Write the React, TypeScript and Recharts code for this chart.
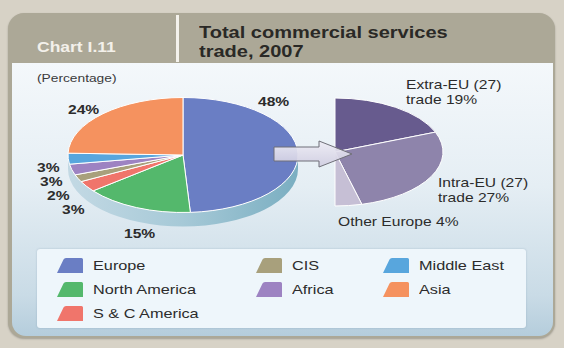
import React from "react";
import { Cell, Legend, Pie, PieChart } from "recharts";

const REGIONS = ["Europe", "North America", "S & C America", "CIS", "Africa", "Middle East", "Asia"];
const REGION_SHARES = [48, 15, 3, 2, 3, 3, 24];
const REGION_COLORS = ["#6a7ec4", "#54b86c", "#f0756b", "#a8a07c", "#9d83c2", "#58a6dd", "#f5925f"];
// legend reads across: three per row
const LEGEND_ORDER = ["Europe", "CIS", "Middle East", "North America", "Africa", "Asia", "S & C America"];

const EUROPE_PARTS = ["Extra-EU (27)", "Intra-EU (27)", "Other Europe"];
const EUROPE_SHARES = [19, 27, 4];
const EUROPE_COLORS = ["#675b8e", "#8e84ab", "#c6bfd5"];

const W = 564;
const H = 348;
const TILT = 0.5; // vertical squash of the pies
const DEPTH = 14; // thickness of the main pie
const STRETCH = 1.25; // the source text is set wide
const FONT = '"Liberation Sans", Arial, Helvetica, sans-serif';

// where each label sits, relative to its pie centre
const REGION_LABEL_AT: Record<string, [number, number]> = {
  Europe: [75, -53],
  "North America": [-59, 79],
  "S & C America": [-121, 55],
  CIS: [-136, 41],
  Africa: [-143, 27],
  "Middle East": [-146, 13],
  Asia: [-115, -45],
};
const EUROPE_LABEL_AT: Record<string, [number, number]> = {
  "Extra-EU (27)": [71, -67],
  "Intra-EU (27)": [103, 31],
  "Other Europe": [3, 70],
};

const regionData = REGIONS.map((name, i) => ({ name, value: REGION_SHARES[i], fill: REGION_COLORS[i] }));
const europeData = EUROPE_PARTS.map((name, i) => ({ name, value: EUROPE_SHARES[i], fill: EUROPE_COLORS[i] }));

const RAD = Math.PI / 180;

function EllipseSector(props: any) {
  const { cx, cy, outerRadius, startAngle, endAngle, fill } = props;
  const rx = outerRadius;
  const ry = outerRadius * TILT;
  const pt = (a: number) => [cx + rx * Math.cos(a * RAD), cy - ry * Math.sin(a * RAD)];
  const [x1, y1] = pt(startAngle);
  const [x2, y2] = pt(endAngle);
  const sweep = endAngle < startAngle ? 1 : 0;
  const large = Math.abs(endAngle - startAngle) > 180 ? 1 : 0;
  return (
    <path
      d={`M${cx},${cy} L${x1},${y1} A${rx},${ry} 0 ${large} ${sweep} ${x2},${y2} Z`}
      fill={fill}
      stroke="#ffffff"
      strokeWidth={1}
      strokeLinejoin="round"
    />
  );
}

// the visible rim under the main pie
function PieRim(props: any) {
  const { cx, cy, outerRadius } = props;
  const rx = outerRadius;
  const ry = outerRadius * TILT;
  const d =
    `M${cx - rx},${cy} L${cx - rx},${cy + DEPTH} ` +
    `A${rx},${ry} 0 0 0 ${cx + rx},${cy + DEPTH} L${cx + rx},${cy} ` +
    `A${rx},${ry} 0 0 1 ${cx - rx},${cy} Z`;
  return (
    <g>
      <defs>
        <linearGradient id="rimFill" gradientUnits="userSpaceOnUse" x1={cx - rx} y1={0} x2={cx + rx} y2={0}>
          <stop offset="0%" stopColor="#c3d9e4" />
          <stop offset="50%" stopColor="#a6c9d7" />
          <stop offset="100%" stopColor="#7aaec1" />
        </linearGradient>
      </defs>
      <path d={d} fill="url(#rimFill)" />
    </g>
  );
}

function WideText({ x, y, size, weight, children }: any) {
  return (
    <text
      transform={`translate(${x},${y}) scale(${STRETCH},1)`}
      fontSize={size}
      fontWeight={weight}
      fontFamily={FONT}
      fill="#2c2c2c"
      dominantBaseline="central"
    >
      {children}
    </text>
  );
}

function regionLabel(props: any) {
  const { cx, cy, index, value } = props;
  const [dx, dy] = REGION_LABEL_AT[REGIONS[index]];
  return (
    <WideText key={`rl-${index}`} x={cx + dx} y={cy + dy} size={12.5} weight="bold">
      {`${value}%`}
    </WideText>
  );
}

function europeLabel(props: any) {
  const { cx, cy, index, value } = props;
  const name = EUROPE_PARTS[index];
  const [dx, dy] = EUROPE_LABEL_AT[name];
  if (name.includes("EU")) {
    return (
      <g key={`el-${index}`}>
        <WideText x={cx + dx} y={cy + dy} size={12.5}>{name}</WideText>
        <WideText x={cx + dx} y={cy + dy + 15} size={12.5}>{`trade ${value}%`}</WideText>
      </g>
    );
  }
  return (
    <WideText key={`el-${index}`} x={cx + dx} y={cy + dy} size={12.5}>
      {`${name} ${value}%`}
    </WideText>
  );
}

function Swatch({ color }: { color: string }) {
  return (
    <svg width={26} height={15} style={{ flex: "none" }}>
      <path d="M0,15 L6.5,1.5 Q7.2,0 9,0 L24.5,0 Q26,0 26,1.5 L26,15 Z" fill={color} />
    </svg>
  );
}

function RegionLegend({ payload }: any) {
  const items = LEGEND_ORDER.map((name) => ({
    name,
    color:
      (payload ?? []).find((p: any) => p.value === name)?.color ?? REGION_COLORS[REGIONS.indexOf(name)],
  }));
  return (
    <div
      style={{
        width: 489,
        height: 79,
        boxSizing: "border-box",
        padding: "4px 0 0 20px",
        background: "#eef6fb",
        borderRadius: 3,
        boxShadow: "0 0 2px rgba(80,115,140,0.35)",
        display: "grid",
        gridAutoFlow: "row",
        gridTemplateRows: "repeat(3, 24px)",
        gridTemplateColumns: "199px 127px 130px",
        fontFamily: FONT,
      }}
    >
      {items.map((it) => (
        <div key={it.name} style={{ display: "flex", alignItems: "center" }}>
          <Swatch color={it.color} />
          <span
            style={{
              marginLeft: 10,
              fontSize: 13,
              color: "#2c2c2c",
              display: "inline-block",
              transform: `scaleX(${STRETCH})`,
              transformOrigin: "left center",
              whiteSpace: "nowrap",
            }}
          >
            {it.name}
          </span>
        </div>
      ))}
    </div>
  );
}

export default function App() {
  return (
    <div
      style={{
        position: "absolute",
        left: 0,
        top: 0,
        width: W,
        height: H,
        overflow: "hidden",
        background: "#d7d2c6",
        fontFamily: FONT,
      }}
    >
      {/* card */}
      <div
        style={{
          position: "absolute",
          left: 8,
          top: 13,
          width: 547,
          height: 325,
          borderRadius: 16,
          background: "#aca897",
          overflow: "hidden",
          boxShadow: "0 1px 2px rgba(0,0,0,0.25)",
        }}
      >
        <div
          style={{
            position: "absolute",
            left: 4,
            right: 2,
            top: 50,
            bottom: 2,
            borderRadius: "0 0 14px 14px",
            background: "linear-gradient(180deg, #f4f8fb 0%, #e5eef4 45%, #c9dbe6 85%, #b5cddc 100%)",
          }}
        />
      </div>
      <div style={{ position: "absolute", left: 176, top: 15, width: 3, height: 47, background: "#f4f2ec" }} />
      <div
        style={{
          position: "absolute",
          left: 37,
          top: 39,
          fontSize: 14,
          fontWeight: "bold",
          color: "#f3f0ea",
          transform: `scaleX(${STRETCH})`,
          transformOrigin: "left top",
          whiteSpace: "nowrap",
        }}
      >
        Chart I.11
      </div>
      <div
        style={{
          position: "absolute",
          left: 199,
          top: 23,
          fontSize: 16,
          lineHeight: "19px",
          fontWeight: "bold",
          color: "#2a2926",
          transform: `scaleX(${STRETCH})`,
          transformOrigin: "left top",
          whiteSpace: "nowrap",
        }}
      >
        Total commercial services
        <br />
        trade, 2007
      </div>
      <div
        style={{
          position: "absolute",
          left: 37,
          top: 72,
          fontSize: 11,
          color: "#3a3a3a",
          transform: `scaleX(${STRETCH})`,
          transformOrigin: "left top",
          whiteSpace: "nowrap",
        }}
      >
        (Percentage)
      </div>

      <div style={{ position: "absolute", left: 0, top: 0 }}>
        <PieChart width={W} height={H} margin={{ top: 0, right: 0, bottom: 0, left: 0 }}>
          <Pie
            data={[{ name: "rim", value: 1 }]}
            dataKey="value"
            cx={183}
            cy={155}
            outerRadius={115}
            legendType="none"
            shape={PieRim}
            activeShape={PieRim}
            isAnimationActive={false}
          />
          <Pie
            data={regionData}
            dataKey="value"
            nameKey="name"
            cx={183}
            cy={155}
            outerRadius={115}
            startAngle={90}
            endAngle={-270}
            shape={EllipseSector}
            activeShape={EllipseSector}
            label={regionLabel}
            labelLine={false}
            isAnimationActive={false}
          >
            {regionData.map((d) => (
              <Cell key={d.name} fill={d.fill} />
            ))}
          </Pie>
          <Pie
            data={europeData}
            dataKey="value"
            nameKey="name"
            cx={335}
            cy={152}
            outerRadius={108}
            startAngle={90}
            endAngle={-90}
            legendType="none"
            shape={EllipseSector}
            activeShape={EllipseSector}
            label={europeLabel}
            labelLine={false}
            isAnimationActive={false}
          >
            {europeData.map((d) => (
              <Cell key={d.name} fill={d.fill} />
            ))}
          </Pie>
          <Legend
            verticalAlign="bottom"
            content={RegionLegend}
            wrapperStyle={{ left: 37, top: 249, width: 489, height: 79 }}
          />
        </PieChart>
      </div>

      {/* pointer from Europe to its breakdown */}
      <svg width={W} height={H} style={{ position: "absolute", left: 0, top: 0, pointerEvents: "none" }}>
        <defs>
          <linearGradient id="arrowFill" x1="0" y1="0" x2="0" y2="1">
            <stop offset="0%" stopColor="#eeedf5" stopOpacity={0.95} />
            <stop offset="100%" stopColor="#cfcce0" stopOpacity={0.9} />
          </linearGradient>
        </defs>
        <path
          d="M274,147 L319,147 L319,141 L352,154 L319,167 L319,161 L274,161 Z"
          fill="url(#arrowFill)"
          stroke="#6f6f78"
          strokeWidth={1}
        />
      </svg>
    </div>
  );
}
